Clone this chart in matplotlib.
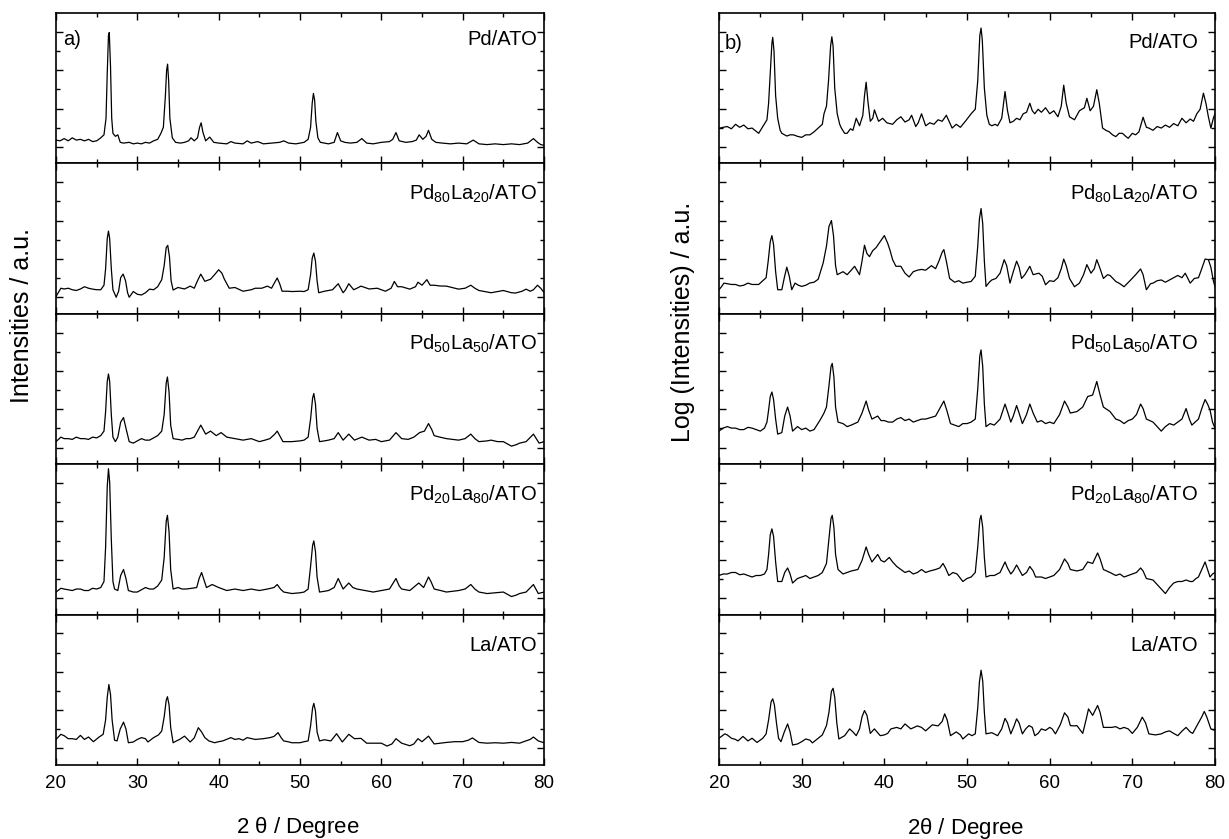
import matplotlib
matplotlib.use("Agg")
import matplotlib.pyplot as plt
from matplotlib.ticker import MultipleLocator, FixedLocator

plt.rcParams['font.family'] = ['Liberation Sans', 'DejaVu Sans']
plt.rcParams['mathtext.fontset'] = 'custom'
plt.rcParams['mathtext.rm'] = 'Liberation Sans'
plt.rcParams['mathtext.default'] = 'regular'

# ---------------- data (intensity in % of panel height) ----------------
sample_labels = ['Pd/ATO', r'Pd$_{80}$La$_{20}$/ATO', r'Pd$_{50}$La$_{50}$/ATO',
                 r'Pd$_{20}$La$_{80}$/ATO', 'La/ATO']

lin_pd = [(20,15.5),(20.5,15),(21,16.5),(21.5,15),(22,17),(22.5,15.5),(23,16),(23.5,15),(24,16),(24.5,14.5),
 (25,15),(25.5,17),(25.9,19),(26.15,30),(26.3,60),(26.45,85),(26.55,87),(26.7,65),(26.85,30),(27.0,20),
 (27.3,18),(27.6,19),(27.9,14),(28.3,13.5),(29,14),(29.5,13),(30,13.5),(30.5,13),(31,14),(31.5,13.5),
 (32,15),(32.5,16),(32.9,20),(33.2,24),(33.45,45),(33.6,62),(33.72,66),(33.85,55),(34.0,30),(34.3,17),
 (34.7,14),(35.3,13.5),(35.8,14),(36.3,15),(36.6,17),(37.0,15),(37.4,17),(37.65,24),(37.85,27),(38.05,21),
 (38.4,15),(38.9,17.5),(39.4,14),(40,13.5),(41,13),(41.5,14.5),(42,13.5),(43,13),(43.5,15),(44,13.5),
 (44.8,14.5),(45.5,13),(46.5,13.5),(47.5,14),(48,15),(48.6,13.5),(49.5,13),(50.5,14),(51.0,16),(51.3,24),
 (51.5,40),(51.65,46.5),(51.8,42),(51.95,28),(52.2,17),(52.5,14),(53.5,13),(54.2,14),(54.6,20.5),(55.0,15),
 (55.5,14),(56.2,13.5),(57.0,14),(57.6,16.5),(58.2,13.5),(59,13),(60,14),(61.0,14.5),(61.4,16),(61.8,20.5),
 (62.2,15),(63,14),(63.8,14.5),(64.3,15.5),(64.65,19),(65.1,16),(65.5,18),(65.8,22),(66.2,16),(66.7,14),
 (67.5,13.5),(68.5,13),(69.5,13.5),(70.5,13),(71.3,15.5),(72,13),(73,12.5),(74,13),(75,12.5),(76,13),
 (77,12.5),(78,13.5),(78.7,16.5),(79.2,14),(79.6,12.5),(80,12)]

lin_pd80 = [(20,11.5),(20.6,17),(21,16.5),(21.5,17),(22,16),(22.5,15.5),(23,16.5),(23.5,18),(24,17),(24.5,16.4),
 (25,16),(25.5,16),(25.9,19),(26.1,30),(26.3,50),(26.45,55),(26.6,50),(26.8,30),(27.0,16),(27.4,11),
 (27.7,15),(27.95,24),(28.25,26.4),(28.55,22),(28.8,14),(29.0,11),(29.5,14.8),(30,13),(30.5,12.5),(31,14),
 (31.5,16.4),(32,16),(32.5,18),(33,22.7),(33.3,32),(33.55,44),(33.74,45.5),(33.95,38),(34.15,22),(34.4,15.8),
 (35,17.5),(35.8,16.5),(36.5,18.4),(37.0,17),(37.4,22),(37.8,26.4),(38.3,21.6),(39,23),(39.5,26),(40,29.3),
 (40.4,27),(40.7,23),(41.3,17),(42,17.5),(43,15),(44,16),(44.5,17),(45.3,17),(46,18.4),(46.5,17),
 (46.9,21),(47.2,23.8),(47.5,20),(47.8,15),(48.5,15),(49,14.8),(50,15),(50.5,14.8),(51.0,16),(51.3,26),
 (51.5,37),(51.7,40.4),(51.9,35),(52.1,22),(52.3,14),(53,15),(54,16),(54.7,20),(55.3,14),(55.6,16),
 (56,20),(56.6,16),(57,17),(57.5,18.4),(58.5,16.5),(59.5,17),(60.5,15),(61.2,17),(61.6,21.5),(62.0,18),
 (62.5,18),(63.5,16.4),(64.2,18),(64.5,21),(65,19),(65.6,22.7),(66,19),(66.5,19),(67.2,18.5),(68,18.4),
 (69.5,16.4),(70.3,17),(71,19),(71.5,17),(72,15.5),(73,14.5),(73.5,14),(74.5,15),(75,15.5),(76,14),
 (76.5,13.8),(77.3,15),(77.8,16.4),(78.3,15),(78.7,16),(79.2,19),(79.6,17),(80,14.2)]

lin_pd50 = [(20,15),(20.6,18),(21,17),(21.5,17),(22,16.5),(22.5,18),(23,17),(23.5,17),(24,16.5),(24.5,18),
 (25,17.5),(25.5,19),(25.9,22),(26.1,35),(26.3,55),(26.45,60),(26.6,55),(26.8,33),(27.0,18),(27.3,15),
 (27.6,18),(27.95,28),(28.3,31),(28.6,24),(29,15),(29.5,14),(30,15.5),(30.5,17),(31,16),(31.5,16),
 (32,17.5),(32.5,19),(33,22),(33.3,33),(33.55,54),(33.7,58),(33.9,48),(34.1,26),(34.4,17),(35,16.5),
 (35.5,16),(36,17),(36.5,17),(37.0,18),(37.4,22),(37.8,26),(38.1,23),(38.4,20),(39,22),(39.7,19),
 (40.3,21),(41,18),(42,17),(43,16),(44,17),(45,15),(45.7,16),(46.3,17),(46.9,20),(47.2,22),
 (47.5,19),(47.9,15),(49,15),(50,15.5),(50.5,16),(51,18),(51.3,30),(51.55,44),(51.7,47),(51.9,40),
 (52.1,24),(52.4,15),(53,15.5),(53.5,16),(54.2,17),(54.7,21),(55.3,16),(56,20),(56.7,16),(57.6,18),
 (58.5,16),(59.3,16.5),(60,15),(61,16),(61.8,21),(62.5,17),(63.3,16.5),(64,18),(64.7,21),(65.3,22),
 (65.8,27),(66.2,23),(66.5,19),(67.2,18),(68,17),(69.5,16),(70.3,17),(71,20),(71.5,17),(72,15),
 (73,15.5),(73.5,16),(74.3,15),(75,15),(76,12),(76.6,13),(77,14),(77.8,15),(78.7,20),(79.4,14),(80,15)]

lin_pd20 = [(20,15),(20.6,17.5),(21,17),(21.5,16.5),(22,16),(22.5,17),(23,17),(23.5,16),(24,16),(24.5,17.5),
 (25,17),(25.5,18),(25.9,22),(26.1,45),(26.3,85),(26.45,97),(26.6,88),(26.8,50),(27.0,22),(27.2,17),
 (27.6,16),(27.95,26),(28.3,30),(28.6,24),(28.9,16),(29.5,15),(30,15),(30.5,16.5),(31,18),(31.5,17),
 (32,17),(32.5,19),(33,23),(33.3,38),(33.55,62),(33.7,66),(33.9,55),(34.1,30),(34.4,17),(35,18),
 (35.5,17),(36,17),(36.7,17.5),(37.3,18),(37.6,24),(37.9,28),(38.2,23),(38.5,18),(39.2,20),(40,18),
 (41,16),(42,17),(43,16),(44,17),(45,16),(46,17),(46.8,18),(47.2,20),(47.6,17),(48,15),
 (49,14),(50,14.5),(50.5,15),(51,17),(51.3,32),(51.55,46),(51.7,49),(51.9,42),(52.1,25),(52.4,15),
 (53,15.5),(53.5,16),(54.2,18),(54.7,24),(55.3,17),(56,21),(56.5,18),(57,17),(58,16),(59,15),
 (60,16),(61,17),(61.8,24),(62.2,19),(62.5,17),(63.5,16),(64.6,21),(65.2,18),(65.8,25),(66.1,22),
 (66.5,17),(67.3,16),(68,15),(69.5,16),(70.3,17),(71,20),(71.5,17),(72,15),(73,14),(74,14.5),
 (75,15),(76,12),(76.6,13),(77,14),(77.8,15),(78.7,20),(79.3,14),(80,15)]

lin_la = [(20,17),(20.6,20.4),(21,19.5),(21.5,17.5),(22,17.5),(22.5,17),(23,19.7),(23.5,17),(24,18.6),(24.6,15.5),
 (25.3,18.6),(25.8,20.4),(26.1,30),(26.3,45),(26.5,53.5),(26.7,47),(26.9,30),(27.2,16.5),(27.5,16),(27.9,24),
 (28.3,28.5),(28.6,24),(28.9,14.8),(29.5,15.3),(30,17),(30.5,18.2),(31,17.5),(31.3,15.3),(32,18.2),(32.6,20),
 (33,22.6),(33.3,32),(33.55,43),(33.7,45.4),(33.9,40),(34.1,25),(34.4,14.8),(34.8,16),(35.2,17),(35.8,19.2),
 (36.5,15.3),(37.0,18),(37.5,24.8),(37.9,22),(38.3,18.2),(38.8,16),(39.5,14.8),(40,15.5),(40.5,16),(41.5,18.2),
 (42,17),(42.5,17.5),(43,16.5),(43.5,18.2),(44.5,17),(45.5,17.5),(46.3,18.2),(46.8,19),(47.3,21.5),(47.7,18),
 (48,16),(48.5,15.5),(49,14.8),(50,14.8),(50.5,15.5),(51,16),(51.3,26),(51.55,38),(51.7,41),(51.9,36),
 (52.1,22),(52.4,16),(53,16.8),(53.8,16),(54.5,20.8),(55.2,15.3),(56,20.4),(56.7,17.5),(57.5,17.7),(58.2,14.5),
 (59.5,14.5),(60,14.5),(60.7,12.6),(61.3,14),(61.8,17.5),(62.5,14.5),(63.5,12.8),(64,14),(64.5,17.5),(65,15.5),
 (65.8,19.2),(66.5,14),(68,15),(69,15.5),(70,15.5),(70.7,16.5),(71.2,18),(72,15),(73,14.5),(74,14.8),
 (75,14.5),(76,15),(77,14.5),(77.5,15.5),(78.3,17),(78.7,18.6),(79.3,16),(80,14.8)]

log_pd = [(20,23.3),(20.5,24),(21,24.5),(21.5,23),(22,26),(22.5,24),(23,25.5),(23.5,23),(24,23.5),(24.8,20),
 (25.3,24.5),(25.8,29),(26.0,40),(26.2,60),(26.4,80),(26.5,83.8),(26.65,75),(26.85,45),(27.1,30),(27.4,22),
 (27.6,20),(28.2,18.2),(28.6,19),(29,19),(29.5,18),(30,17.3),(30.5,19),(31,19),(31.5,21),(32,23.5),
 (32.5,26),(32.7,33),(33.0,38),(33.25,55),(33.5,78),(33.65,84.2),(33.8,78),(34.0,50),(34.3,33),(34.6,26),
 (34.8,23.5),(35.2,20),(35.5,20),(35.9,23),(36.2,22),(36.6,30),(37.0,25),(37.4,32),(37.6,45),(37.8,54),
 (38.0,42),(38.3,28),(38.6,30),(38.8,35.6),(39.3,28),(39.8,30),(40.3,27),(41,26),(41.5,29),(42,31),
 (42.5,27.5),(43.0,29),(43.3,32),(43.8,24.5),(44.1,27),(44.5,33),(45,25),(45.5,27),(46,26),(46.5,29),
 (47,28),(47.5,32),(48.2,23.5),(48.7,26),(49.2,24),(49.8,28),(50.5,33),(51.0,36),(51.3,55),(51.55,85),
 (51.7,90),(51.85,82),(52.1,50),(52.4,32),(52.7,26),(53.0,25),(53.4,26),(53.7,25),(54.2,30),(54.6,47.8),
 (54.9,35),(55.2,27),(55.6,28),(56.0,30),(56.4,29),(56.8,33),(57.2,34),(57.6,40),(57.9,35),(58.2,33),
 (58.6,36),(59,34),(59.5,37),(60,33),(60.5,35),(61,31),(61.4,38),(61.7,52),(62.0,40),(62.4,31),
 (63.0,29),(63.6,35),(64.2,37),(64.5,43.3),(64.9,35),(65.3,38),(65.7,49),(66.0,40),(66.4,23.5),(66.8,22),
 (67.2,21),(67.6,19),(68,17.8),(68.4,20),(68.8,20),(69.2,18),(69.5,16.7),(70,20),(70.4,19),(70.8,21),
 (71.3,30.7),(71.7,24),(72,23.5),(72.5,22),(73,24.5),(73.5,23.5),(74,25.5),(74.5,24),(75,26.5),(75.5,25),
 (76,30),(76.5,27),(77,29.5),(77.4,28),(77.8,33),(78.2,36),(78.6,46.7),(78.9,40),(79.2,31),(79.5,23.5),
 (79.8,30),(80,33)]

log_pd80 = [(20,16),(20.3,18),(20.6,20.4),(21,20),(21.5,19.5),(22,19.5),(22.5,18.5),(23,19),(23.5,20.4),(24,19.5),
 (24.8,19.5),(25.3,22),(25.7,24),(25.95,35),(26.2,48),(26.4,52),(26.6,46),(26.85,28),(27.1,16),(27.6,16),
 (27.9,24),(28.2,31),(28.5,25),(28.8,16),(29.2,20.4),(29.6,19),(30,18.2),(30.5,19),(31,20.5),(31.5,21),
 (32,23),(32.6,33.8),(33.0,45),(33.3,58),(33.6,62),(33.85,52),(34.1,32),(34.3,26),(35,28),(35.5,26),
 (36,29),(36.4,31.6),(37,26),(37.3,35),(37.6,45.6),(37.9,40),(38.2,38),(38.6,42),(39,44),(39.5,48),
 (40,52),(40.4,47),(40.7,42),(41.0,36),(41.4,31.6),(42,31.6),(42.5,27),(43,24.5),(43.5,28),(44,29),
 (44.5,29.5),(45,29),(45.7,32),(46.2,30),(46.6,35),(47.0,41),(47.2,42.7),(47.5,35),(47.9,23.5),(48.5,21),
 (49.0,22),(49.5,20.4),(50.0,21),(50.5,21.5),(51,25),(51.3,45),(51.5,63),(51.7,70),(51.9,60),(52.1,35),
 (52.3,18.2),(52.7,21),(53,22.5),(53.5,23.5),(54.0,27),(54.5,36),(54.8,32),(55.2,20.4),(55.6,28),(56,35),
 (56.3,31),(56.6,23.5),(57.0,26),(57.6,31.6),(58,26),(58.7,27),(59.1,25),(59.5,19.3),(60,22),(60.5,21.5),
 (61.0,24),(61.4,30),(61.7,36.4),(62.0,32),(62.4,23.5),(63,18),(63.6,20.4),(64.1,26),(64.5,32.7),(65,27),
 (65.4,30),(65.7,36),(66.1,30),(66.5,23.5),(67,26),(67.3,25.5),(68,21.5),(68.5,20),(69,18),(69.8,22.5),
 (70.4,26),(71,29.8),(71.3,26),(71.7,16),(72.2,20),(72.5,20.4),(73,22),(73.5,22.5),(74,21),(74.5,22.5),
 (75,24),(75.5,25.5),(76,24),(76.4,27),(77,20.4),(77.5,23.5),(78,24),(78.4,30),(78.8,36.4),(79.2,36),
 (79.5,31),(79.8,22),(80,18)]

log_pd50 = [(20,22),(20.5,24),(21,25),(21.5,24),(22,24),(22.5,23),(23,23),(23.5,24.5),(24,24),(24.5,23),
 (25,22),(25.5,24),(25.8,28),(26.0,36),(26.2,45),(26.4,48),(26.6,43),(26.85,30),(27.1,20),(27.6,21),
 (27.95,32),(28.3,38),(28.6,32),(28.9,22),(29.5,25),(30,23),(30.5,24),(31,22),(31.5,23),(32.3,30),
 (32.7,34),(33.0,38),(33.3,52),(33.55,65),(33.7,67),(33.9,58),(34.1,38),(34.4,28),(35,27),(35.5,25),
 (36,26),(36.8,28),(37.3,34),(37.8,42),(38.1,36),(38.5,30),(39.2,32),(39.6,29),(40,29),(40.5,28),
 (41,28),(41.5,30),(42,31),(42.5,29),(43,30),(43.5,28),(44,29),(44.5,30),(45,30),(45.6,31),
 (46.2,32),(46.8,38),(47.2,42),(47.6,35),(48,27),(48.5,26),(49,25),(49.5,27),(50,27),(50.5,28),
 (51,30),(51.3,50),(51.55,72),(51.7,76),(51.9,65),(52.1,40),(52.3,25),(52.8,27),(53.3,26),(54.0,30),
 (54.6,40),(54.9,35),(55.3,28),(55.6,32),(56,39),(56.3,34),(56.7,27),(57.2,33),(57.6,40),(58,34),
 (58.5,28),(59,29),(59.5,27),(60,28),(60.5,27),(61.2,33),(61.8,42),(62.2,38),(62.5,34),(63.3,35),
 (64,38),(64.6,45),(65.2,46),(65.7,55),(66.1,46),(66.5,38),(67.3,35),(68,30),(68.5,29),(69,27),
 (69.5,29),(70,30),(70.5,33),(71,40),(71.3,37),(71.7,30),(72.5,28),(73,25),(73.5,22),(74,25),
 (74.5,27),(75,26),(75.5,28),(76,30),(76.5,37),(76.9,30),(77.2,26),(77.6,28),(78,30),(78.4,37),
 (78.8,43),(79.1,40),(79.4,36),(79.7,28),(80,24)]

log_pd20 = [(20,26),(20.5,27),(21,27),(21.5,28),(22,28),(22.5,26.5),(23,27),(23.5,26),(24,25),(24.5,26),
 (25,26),(25.5,27),(25.8,30),(26.0,40),(26.2,53),(26.4,57),(26.6,52),(26.85,35),(27.1,22),(27.6,22),
 (27.95,28),(28.3,31),(28.6,27),(28.9,21),(29.5,24),(30,25),(30.5,26),(31,24),(31.5,25),(32,26),
 (32.5,28),(33,34),(33.3,50),(33.55,64),(33.7,66),(33.9,58),(34.1,40),(34.4,30),(35,27),(35.5,28),
 (36,29),(36.8,30),(37.3,36),(37.8,45),(38.1,40),(38.5,35),(39.2,40),(39.6,36),(40,35),(40.6,38),
 (41,35),(41.5,32),(42,30),(42.5,28),(43,29),(43.5,27),(44,28),(44.5,30),(45,28),(45.5,29),
 (46.2,30),(46.7,31),(47.1,34),(47.4,31),(47.8,26),(48.3,28),(48.8,27),(49.5,22),(50,24),(50.5,25),
 (51,28),(51.3,45),(51.55,63),(51.7,66),(51.9,58),(52.1,38),(52.3,25),(52.8,26),(53.3,26),(54,28),
 (54.6,35),(54.9,31),(55.3,27),(55.6,29),(56,33),(56.3,30),(56.7,26),(57.2,28),(57.6,32),(58,29),
 (58.3,25),(59,25),(59.5,24),(60,25),(60.5,26),(61.2,30),(61.8,37),(62.2,34),(62.5,30),(63.3,29),
 (64,30),(64.6,35),(65.2,34),(65.8,41),(66.1,37),(66.5,30),(67.3,28),(68,26),(68.5,27),(69,25),
 (69.5,26),(70,27),(70.5,28),(71,31),(71.3,29),(71.7,24),(72.5,23),(73,20),(73.5,17),(74,14),
 (74.5,18),(75,21),(75.5,22),(76,22),(76.5,23),(77,22),(77.3,22),(77.7,24),(78,25),(78.4,30),
 (78.8,35),(79.1,30),(79.4,25),(79.7,27),(80,28)]

log_la = [(20,17.8),(20.7,20.7),(21,20),(21.5,17.8),(22,17),(22.3,16),(22.9,19),(23.5,16),(24,17.8),(24.6,15),
 (25.3,17.8),(25.7,20.7),(26.0,30),(26.3,42),(26.5,44),(26.7,40),(26.95,28),(27.2,17.8),(27.5,15.5),(27.9,22),
 (28.3,27.3),(28.6,22),(28.9,13.3),(29.5,14),(30,15.5),(30.5,17.3),(31,16.5),(31.3,14.7),(32,17.8),(32.5,20),
 (33,26.2),(33.3,35),(33.6,49),(33.8,51),(34.0,45),(34.25,28),(34.5,17.3),(35.2,19.5),(35.8,24),(36.2,22),
 (36.6,19.5),(37.0,24),(37.3,32),(37.6,36.2),(37.9,33),(38.3,21),(38.8,24),(39.5,19.5),(40,20),(40.4,21),
 (40.8,24),(41.5,25),(42,24),(42.5,27.3),(43.2,24),(44,26),(44.5,25),(45,22.7),(45.8,26.7),(46.5,26),
 (47,29),(47.3,34),(47.6,30),(48,19.5),(48.7,22),(49.2,20),(49.5,17.3),(50.2,20.7),(50.6,19.5),(51,20.7),
 (51.3,38),(51.5,55),(51.7,63),(51.9,56),(52.1,35),(52.3,20.7),(53,21.5),(53.7,19.5),(54.2,24),(54.6,31),
 (54.9,28),(55.3,20.7),(55.7,26),(56,30.7),(56.3,28),(56.7,20.7),(57.1,24),(57.5,26.2),(57.9,25),(58.2,19.5),
 (58.6,21),(59,24),(59.5,23),(60,25),(60.3,24),(60.7,20.7),(61.3,27),(61.8,34.7),(62.2,32),(62.5,26.2),
 (63,26),(63.3,26.2),(64,21),(64.4,30),(64.7,37.3),(65.2,33),(65.8,39.6),(66.1,35),(66.5,25),(67,25),
 (67.5,25),(68,25.5),(68.5,24),(69,25),(69.5,24),(70,21),(70.6,25),(71.2,31.8),(71.6,28),(72,20.7),
 (72.8,20),(73.5,20.7),(74,22),(74.5,22.7),(75,21),(75.5,19.5),(76,22.5),(76.5,25),(77,22),(77.3,21),
 (77.7,25),(78,28),(78.4,32),(78.7,35.6),(79.0,32),(79.5,24),(80,23)]

linear_series = [lin_pd, lin_pd80, lin_pd50, lin_pd20, lin_la]
log_series = [log_pd, log_pd80, log_pd50, log_pd20, log_la]

x_major = [20, 30, 40, 50, 60, 70, 80]
y_major = [11, 36.5, 62, 87.5]
y_minor = [23.75, 49.25, 74.75]

# ---------------- layout ----------------
W, H = 1229, 839
fig = plt.figure(figsize=(W / 100, H / 100), dpi=100)
top_px, bot_px = 13, 765
ph = (bot_px - top_px) / 5.0
columns = [(56, 544), (719, 1215)]

for c, (lp, rp) in enumerate(columns):
    series = linear_series if c == 0 else log_series
    for i in range(5):
        ax = fig.add_axes([lp / W, 1 - (top_px + (i + 1) * ph) / H, (rp - lp) / W, ph / H])
        xs = [p[0] for p in series[i]]
        ys = [p[1] for p in series[i]]
        ax.plot(xs, ys, color='black', lw=0.9)
        ax.set_xlim(20, 80)
        ax.set_ylim(0, 100)
        ax.xaxis.set_major_locator(FixedLocator(x_major))
        ax.xaxis.set_minor_locator(MultipleLocator(5))
        ax.yaxis.set_major_locator(FixedLocator(y_major))
        ax.yaxis.set_minor_locator(FixedLocator(y_minor))
        ax.tick_params(which='both', direction='in', top=True, right=True, width=1.0)
        ax.tick_params(which='major', length=5)
        ax.tick_params(which='minor', length=3)
        ax.tick_params(axis='y', labelleft=False)
        for s in ax.spines.values():
            s.set_linewidth(1.2)
        if i < 4:
            ax.tick_params(axis='x', labelbottom=False)
        else:
            ax.tick_params(axis='x', labelsize=13.5, pad=7)
        # sample label (baseline offsets in px below the panel top)
        if c == 0:
            xr = (537 - lp) / (rp - lp)
            base = 32 if i == 0 else 36
        else:
            xr = (1198 - lp) / (rp - lp)
            base = 35 if i == 0 else 36
        ax.text(xr, 1 - base / ph, sample_labels[i], transform=ax.transAxes,
                ha='right', va='baseline', fontsize=14.5)
        if i == 0:
            ax.text((63 - lp) / (rp - lp) if c == 0 else (725 - lp) / (rp - lp),
                    1 - (32 if c == 0 else 36) / ph, 'a)' if c == 0 else 'b)',
                    transform=ax.transAxes, ha='left', va='baseline', fontsize=14.5)

fig.text(22 / W, 1 - 316 / H, 'Intensities / a.u.', rotation=90, ha='center', va='center', fontsize=18)
fig.text(683 / W, 1 - 322 / H, 'Log (Intensities) / a.u.', rotation=90, ha='center', va='center', fontsize=18)
fig.text(298 / W, 1 - 833 / H, r'2 $\theta$ / Degree', ha='center', va='baseline', fontsize=16)
fig.text(966 / W, 1 - 834 / H, r'2$\theta$ / Degree', ha='center', va='baseline', fontsize=16)

fig.savefig('out.png', dpi=100)
